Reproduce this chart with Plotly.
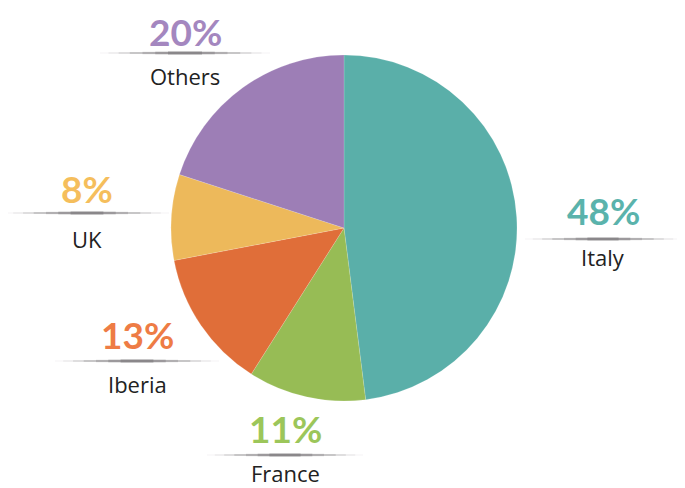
import plotly.graph_objects as go

categories = ["Italy", "France", "Iberia", "UK", "Others"]
values = [48, 11, 13, 8, 20]
slice_colors = ["#5AAFA9", "#97BC55", "#E06E39", "#EDB95B", "#9D7EB6"]
label_colors = ["#5AB3AC", "#9CC65A", "#EE7C45", "#F5BE5C", "#A487BF"]

OFF = 8  # page body margin
W, H = 685 - OFF, 488 - OFF
# label anchor positions (reference pixel centres): percent text, separator line, category text
label_pos = {
    "Italy":  (603, 211, 239, 257),
    "France": (285, 428, 455, 473),
    "Iberia": (137, 334, 361, 384),
    "UK":     (87, 188, 213, 239),
    "Others": (185, 31, 53, 76),
}
line_half = {"Italy": 78, "France": 78, "Iberia": 82, "UK": 82, "Others": 85}

def px(x):
    return (x - OFF) / W

def py(y):
    return 1 - (y - OFF) / H

fig = go.Figure()
cx0, cy0, r = 344, 228, 173
fig.add_trace(go.Pie(
    labels=categories,
    values=values,
    sort=False,
    direction="clockwise",
    rotation=0,
    marker=dict(colors=slice_colors, line=dict(color="rgba(255,255,255,0.25)", width=0.6)),
    textinfo="none",
    hoverinfo="label+percent",
    showlegend=False,
    domain=dict(x=[px(cx0 - r), px(cx0 + r)], y=[py(cy0 + r), py(cy0 - r)]),
))

annotations = []
shapes = []
for cat, val, col in zip(categories, values, label_colors):
    cx, pty, ly, ty = label_pos[cat]
    annotations.append(dict(
        x=px(cx), y=py(pty), xref="paper", yref="paper", showarrow=False,
        text=f"<b>{val}%</b>", font=dict(family="Lato", size=37, color=col),
        xanchor="center", yanchor="middle"))
    annotations.append(dict(
        x=px(cx), y=py(ty), xref="paper", yref="paper", showarrow=False,
        text=cat, font=dict(family="Open Sans", size=22, color="#222222"),
        xanchor="center", yanchor="middle"))
    hl = line_half[cat]
    # soft tapered separator built from stacked translucent segments
    for frac, w, a in [(1.0, 0.6, 0.10), (0.9, 1.0, 0.10), (0.78, 1.5, 0.12), (0.65, 2.0, 0.14),
                       (0.5, 2.6, 0.16), (0.35, 3.2, 0.18), (0.2, 3.8, 0.18)]:
        shapes.append(dict(type="line", xref="paper", yref="paper",
                           x0=px(cx - hl * frac), x1=px(cx + hl * frac),
                           y0=py(ly), y1=py(ly),
                           line=dict(color=f"rgba(60,55,60,{a})", width=w)))

fig.update_layout(
    width=W, height=H,
    margin=dict(l=0, r=0, t=0, b=0),
    paper_bgcolor="white", plot_bgcolor="white",
    annotations=annotations, shapes=shapes,
)
fig.write_html("out.html")
